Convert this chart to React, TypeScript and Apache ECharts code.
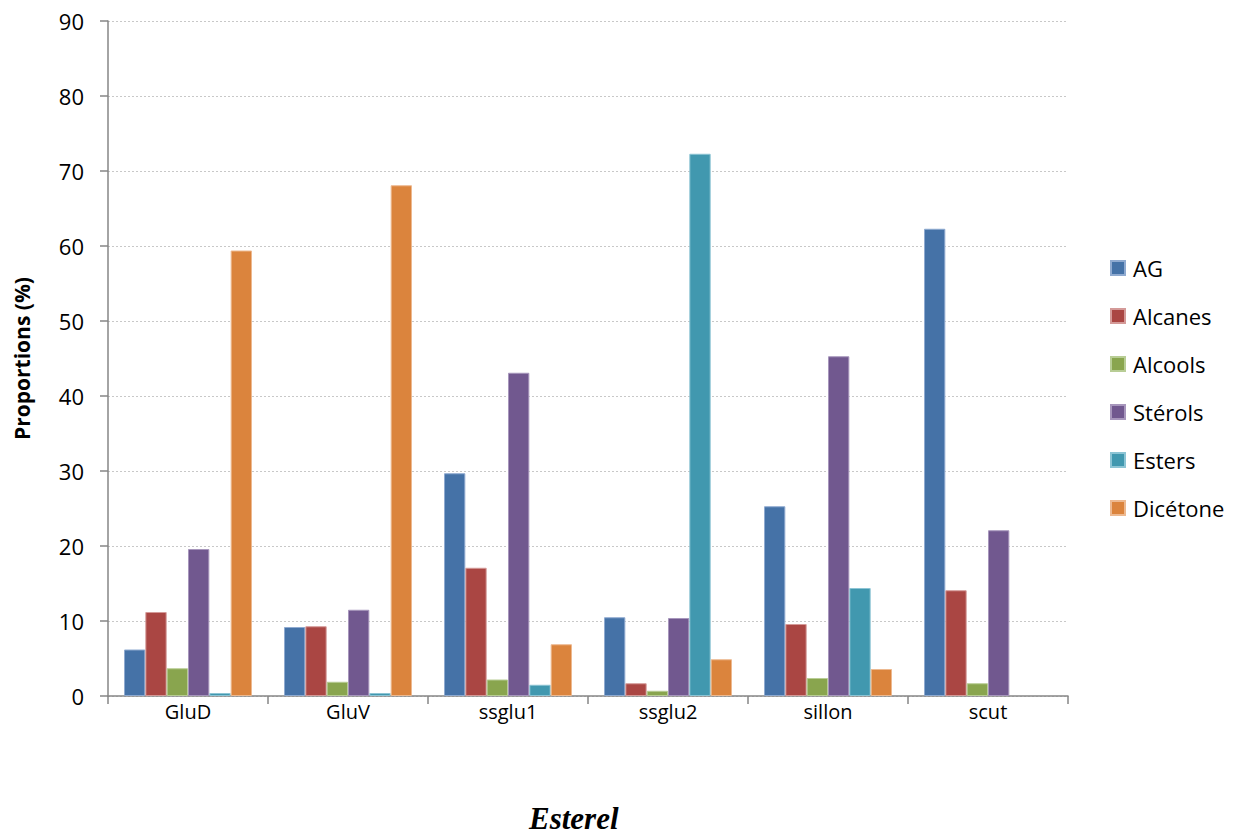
import React, { useEffect, useRef } from "react";
import * as echarts from "echarts";

const categories = ["GluD", "GluV", "ssglu1", "ssglu2", "sillon", "scut"];
const seriesNames = ["AG", "Alcanes", "Alcools", "Stérols", "Esters", "Dicétone"];
const agValues = [6.2, 9.2, 29.7, 10.5, 25.3, 62.3];
const alcanesValues = [11.2, 9.3, 17.1, 1.7, 9.6, 14.1];
const alcoolsValues = [3.7, 1.9, 2.2, 0.7, 2.4, 1.7];
const sterolsValues = [19.6, 11.5, 43.1, 10.4, 45.3, 22.1];
const estersValues = [0.4, 0.4, 1.5, 72.3, 14.4, null];
const dicetoneValues = [59.4, 68.1, 6.9, 4.9, 3.6, null];
const yTicks = [0, 10, 20, 30, 40, 50, 60, 70, 80, 90];
const colors = ["#4572A7", "#AA4643", "#89A54E", "#71588F", "#4198AF", "#DB843D"];
const borders = ["#8FAAD0", "#D49A98", "#B8CD95", "#A796BC", "#8CC4D4", "#EDB990"];

const allValues = [agValues, alcanesValues, alcoolsValues, sterolsValues, estersValues, dicetoneValues];

export default function App() {
  const ref = useRef<HTMLDivElement>(null);
  useEffect(() => {
    if (!ref.current) return;
    const chart = echarts.init(ref.current, null, { renderer: "svg" });
    const font = "'Open Sans', sans-serif";
    chart.setOption({
      animation: false,
      backgroundColor: "#ffffff",
      grid: { left: 108, right: 176, top: 21, bottom: 140, containLabel: false },
      legend: {
        orient: "vertical",
        left: 1105,
        top: 252,
        itemWidth: 14,
        itemHeight: 14,
        itemGap: 26,
        icon: "rect",
        data: seriesNames,
        textStyle: { fontFamily: font, fontSize: 22, color: "#000", padding: [0, 0, 0, 3] },
      },
      xAxis: {
        type: "category",
        data: categories,
        axisLine: { lineStyle: { color: "#868686", width: 1.5 } },
        axisTick: { show: true, alignWithLabel: false, length: 8, lineStyle: { color: "#868686", width: 1.5 } },
        axisLabel: { fontFamily: font, fontSize: 20, color: "#000", margin: 5 },
      },
      yAxis: {
        type: "value",
        min: 0,
        max: yTicks[yTicks.length - 1],
        interval: 10,
        name: "Proportions (%)",
        nameLocation: "middle",
        nameGap: 76,
        nameTextStyle: { fontFamily: font, fontSize: 21, fontWeight: "bold", color: "#000" },
        axisLine: { show: true, lineStyle: { color: "#868686", width: 1.5 } },
        axisTick: { show: true, length: 8, lineStyle: { color: "#868686", width: 1.5 } },
        axisLabel: { fontFamily: font, fontSize: 22, color: "#000", margin: 24 },
        splitLine: { show: true, lineStyle: { color: "#c8c8c8", type: [2, 2], width: 1 } },
      },
      graphic: [
        {
          type: "text",
          left: 529,
          top: 803,
          style: {
            text: "Esterel",
            fontFamily: "'Liberation Serif', serif",
            fontSize: 31,
            fontWeight: "bold",
            fontStyle: "italic",
            fill: "#000",
          },
        },
      ],
      series: seriesNames.map((name, i) => ({
        name,
        type: "bar",
        data: allValues[i],
        barGap: "0%",
        barCategoryGap: "20%",
        itemStyle: { color: colors[i], borderColor: borders[i], borderWidth: 1 },
      })),
    });
    return () => chart.dispose();
  }, []);
  return <div ref={ref} style={{ position: "absolute", left: 0, top: 0, width: 1244, height: 836 }} />;
}
